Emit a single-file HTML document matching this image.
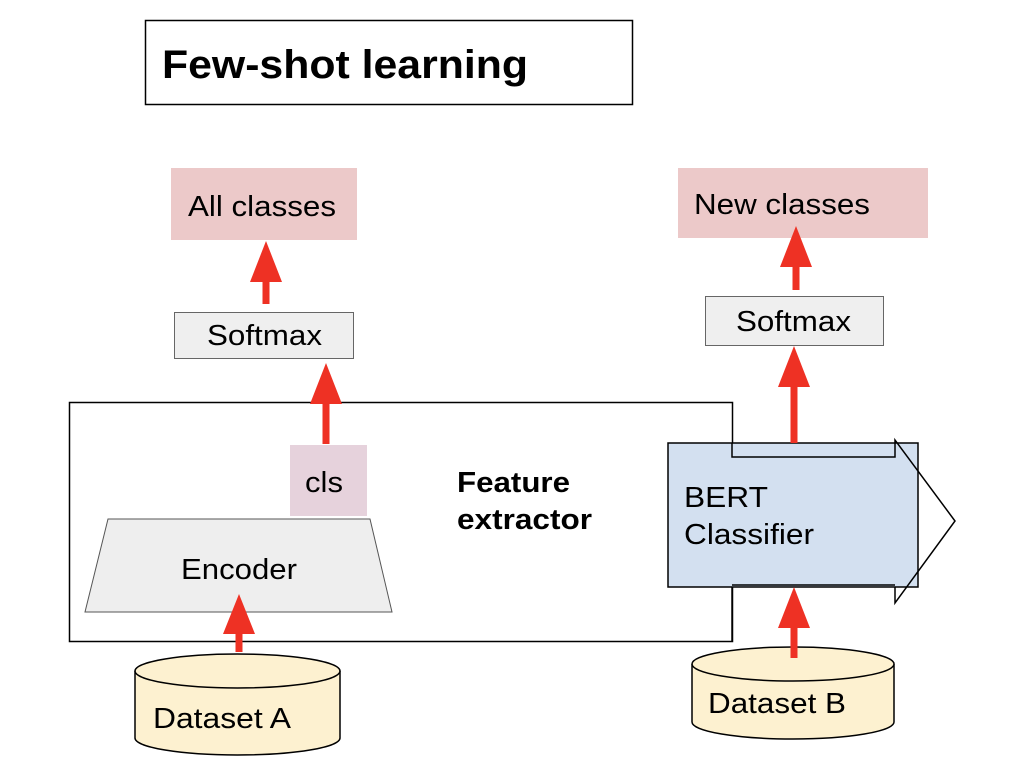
<!DOCTYPE html>
<html><head><style>body{margin:0;background:#fff}svg{display:block}text{font-family:"Liberation Sans",Arial,sans-serif}</style></head><body>
<svg width="1018" height="782" viewBox="0 0 1018 782" xmlns="http://www.w3.org/2000/svg">
<rect x="145.5" y="20.5" width="487" height="84" fill="#fff" stroke="#000" stroke-width="1.5"/>
<text x="162" y="78" font-size="40" font-weight="bold" textLength="366" lengthAdjust="spacingAndGlyphs">Few-shot learning</text>
<rect x="171" y="168" width="186" height="72" fill="#ecc9c9"/>
<text x="188" y="216" font-size="29" textLength="148" lengthAdjust="spacingAndGlyphs">All classes</text>
<rect x="678" y="168" width="250" height="70" fill="#ecc9c9"/>
<text x="694" y="214" font-size="29" textLength="176" lengthAdjust="spacingAndGlyphs">New classes</text>
<rect x="174.5" y="312.5" width="179" height="46" fill="#efefef" stroke="#666" stroke-width="1"/>
<text x="207" y="345" font-size="29" textLength="115" lengthAdjust="spacingAndGlyphs">Softmax</text>
<rect x="705.5" y="296.5" width="178" height="49" fill="#efefef" stroke="#666" stroke-width="1"/>
<text x="736" y="331" font-size="29" textLength="115" lengthAdjust="spacingAndGlyphs">Softmax</text>
<rect x="69.5" y="402.5" width="663" height="239" fill="#fff" stroke="#000" stroke-width="1.5"/>
<rect x="290" y="445" width="77" height="71" fill="#e6d2dc"/>
<text x="305" y="492" font-size="29" textLength="38" lengthAdjust="spacingAndGlyphs">cls</text>
<polygon points="108,519 370,519 392,612 85,612" fill="#eeeeee" stroke="#555" stroke-width="1"/>
<text x="181" y="579" font-size="29" textLength="116" lengthAdjust="spacingAndGlyphs">Encoder</text>
<text x="457" y="492" font-size="29" font-weight="bold" textLength="113" lengthAdjust="spacingAndGlyphs">Feature</text>
<text x="457" y="529" font-size="29" font-weight="bold" textLength="135" lengthAdjust="spacingAndGlyphs">extractor</text>
<rect x="668" y="443" width="250" height="144" fill="#d3e0f0" stroke="#000" stroke-width="1.5"/>
<polyline points="732,443 732,457 895,457 895,440 955,521 895,603 895,587" fill="none" stroke="#000" stroke-width="1.5"/>
<line x1="732" y1="585" x2="895" y2="585" stroke="#000" stroke-width="1.5"/>
<line x1="732" y1="587" x2="732" y2="641" stroke="#000" stroke-width="1.5"/>
<text x="684" y="507" font-size="29" textLength="84" lengthAdjust="spacingAndGlyphs">BERT</text>
<text x="684" y="544" font-size="29" textLength="130" lengthAdjust="spacingAndGlyphs">Classifier</text>
<path d="M135,671 V738 A102.5,17 0 0 0 340,738 V671" fill="#fdf1d0" stroke="#000" stroke-width="1.5"/>
<ellipse cx="237.5" cy="671" rx="102.5" ry="17" fill="#fdf1d0" stroke="#000" stroke-width="1.5"/>
<text x="153" y="728" font-size="29" textLength="138" lengthAdjust="spacingAndGlyphs">Dataset A</text>
<path d="M692,664 V722 A101,17 0 0 0 894,722 V664" fill="#fdf1d0" stroke="#000" stroke-width="1.5"/>
<ellipse cx="793" cy="664" rx="101" ry="17" fill="#fdf1d0" stroke="#000" stroke-width="1.5"/>
<text x="708" y="713" font-size="29" textLength="138" lengthAdjust="spacingAndGlyphs">Dataset B</text>
<g fill="#ee3124" stroke="#ee3124">
<line x1="239" y1="652" x2="239" y2="630" stroke-width="7"/><polygon points="239,594 223,634 255,634" stroke="none"/>
<line x1="326" y1="444" x2="326" y2="400" stroke-width="7"/><polygon points="326,363 310,404 342,404" stroke="none"/>
<line x1="266" y1="304" x2="266" y2="280" stroke-width="7"/><polygon points="266,241 250,282 282,282" stroke="none"/>
<line x1="794" y1="443" x2="794" y2="383" stroke-width="7"/><polygon points="794,346 778,387 810,387" stroke="none"/>
<line x1="796" y1="290" x2="796" y2="264" stroke-width="7"/><polygon points="796,226 780,267 812,267" stroke="none"/>
<line x1="794" y1="658" x2="794" y2="625" stroke-width="7"/><polygon points="794,587 778,628 810,628" stroke="none"/>
</g>
</svg>
</body></html>
